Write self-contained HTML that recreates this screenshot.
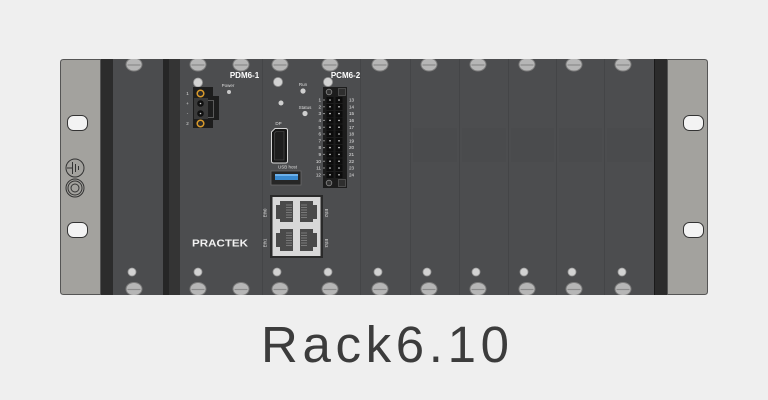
<!DOCTYPE html>
<html><head><meta charset="utf-8"><style>
html,body{margin:0;padding:0;background:#efefef;}
svg{display:block;}
text{font-family:"Liberation Sans",sans-serif;}
</style></head><body>
<svg width="768" height="400" viewBox="0 0 768 400" xmlns="http://www.w3.org/2000/svg">
<rect x="0" y="0" width="768" height="400" fill="#efefef"/>
<!-- main panel -->
<rect x="100" y="59" width="568" height="236" fill="#4c4d4f"/>
<rect x="100" y="59" width="13" height="236" fill="#2c2c2c"/>
<rect x="113" y="59" width="50" height="236" fill="#4b4c4e"/>
<rect x="163" y="59" width="6" height="236" fill="#262626"/>
<rect x="169" y="59" width="11" height="236" fill="#343434"/>
<rect x="654" y="59" width="14" height="236" fill="#2b2b2b"/>
<line x1="654.5" y1="59" x2="654.5" y2="295" stroke="#1a1a1a" stroke-width="1"/>
<!-- slot dividers -->
<g stroke="#444547" stroke-width="1">
<line x1="262.5" y1="59" x2="262.5" y2="295"/>
<line x1="360.5" y1="59" x2="360.5" y2="295"/>
<line x1="410.5" y1="59" x2="410.5" y2="295"/>
<line x1="459.5" y1="59" x2="459.5" y2="295"/>
<line x1="508.5" y1="59" x2="508.5" y2="295"/>
<line x1="556.5" y1="59" x2="556.5" y2="295"/>
<line x1="604.5" y1="59" x2="604.5" y2="295"/>
</g>
<!-- subtle ghost blocks -->
<g fill="#4a4b4d">
<rect x="413" y="128" width="44" height="34"/><rect x="462" y="128" width="44" height="34"/>
<rect x="511" y="128" width="43" height="34"/><rect x="559" y="128" width="43" height="34"/>
<rect x="607" y="128" width="45" height="34"/>
</g>
<!-- screws -->
<defs>
<g id="scr">
<ellipse cx="0" cy="0" rx="8" ry="6.5" fill="#b6b6b6" stroke="#7c7c7c" stroke-width="1"/>
<line x1="-6.5" y1="0.5" x2="6.5" y2="0.5" stroke="#8c8c8c" stroke-width="1.2"/>
</g>
</defs>
<g>
<use href="#scr" x="134" y="64.5"/><use href="#scr" x="198" y="64.5"/><use href="#scr" x="241" y="64.5"/>
<use href="#scr" x="280" y="64.5"/><use href="#scr" x="330" y="64.5"/><use href="#scr" x="380" y="64.5"/>
<use href="#scr" x="429" y="64.5"/><use href="#scr" x="478" y="64.5"/><use href="#scr" x="527" y="64.5"/>
<use href="#scr" x="574" y="64.5"/><use href="#scr" x="623" y="64.5"/>
<use href="#scr" x="134" y="289"/><use href="#scr" x="198" y="289"/><use href="#scr" x="241" y="289"/>
<use href="#scr" x="280" y="289"/><use href="#scr" x="330" y="289"/><use href="#scr" x="380" y="289"/>
<use href="#scr" x="429" y="289"/><use href="#scr" x="478" y="289"/><use href="#scr" x="527" y="289"/>
<use href="#scr" x="574" y="289"/><use href="#scr" x="623" y="289"/>
</g>
<rect x="0" y="0" width="768" height="59" fill="#efefef"/>
<rect x="0" y="295" width="768" height="30" fill="#efefef"/>
<!-- round dots -->
<g fill="#d2d2d2" stroke="#9a9a9a" stroke-width="0.8">
<circle cx="198" cy="82.5" r="4.5"/><circle cx="278" cy="82" r="4.5"/><circle cx="328" cy="82" r="4.5"/>
<circle cx="132" cy="272" r="4"/><circle cx="198" cy="272" r="4"/><circle cx="277" cy="272" r="4"/>
<circle cx="328" cy="272" r="4"/><circle cx="378" cy="272" r="4"/><circle cx="427" cy="272" r="4"/>
<circle cx="476" cy="272" r="4"/><circle cx="524" cy="272" r="4"/><circle cx="572" cy="272" r="4"/>
<circle cx="622" cy="272" r="4"/>
</g>
<!-- ears -->
<path d="M63.5,59.5 H100.5 V294.5 H63.5 Q60.5,294.5 60.5,291.5 V62.5 Q60.5,59.5 63.5,59.5 Z" fill="#a3a29e" stroke="#555" stroke-width="1"/>
<path d="M667.5,59.5 H704.5 Q707.5,59.5 707.5,62.5 V291.5 Q707.5,294.5 704.5,294.5 H667.5 Z" fill="#a3a29e" stroke="#555" stroke-width="1"/>
<g fill="#f3f3f3" stroke="#333" stroke-width="1">
<rect x="67.5" y="115.5" width="20" height="15" rx="6"/>
<rect x="67.5" y="222.5" width="20" height="15" rx="6"/>
<rect x="683.5" y="115.5" width="20" height="15" rx="6"/>
<rect x="683.5" y="222.5" width="20" height="15" rx="6"/>
</g>
<!-- ground symbol -->
<g stroke="#333" stroke-width="1" fill="none">
<circle cx="75" cy="168" r="9"/>
<line x1="67" y1="168" x2="72" y2="168"/>
<line x1="72.5" y1="162" x2="72.5" y2="174"/>
<line x1="75.5" y1="164" x2="75.5" y2="172"/>
<line x1="78.5" y1="166" x2="78.5" y2="170"/>
<circle cx="75" cy="188" r="9"/>
<circle cx="75" cy="188" r="7"/>
<circle cx="75" cy="188" r="4"/>
</g>
<!-- PDM6-1 -->
<text x="244.5" y="78" font-size="8" font-weight="bold" fill="#fff" text-anchor="middle">PDM6-1</text>
<text x="228" y="87" font-size="4.5" fill="#ddd" text-anchor="middle">Power</text>
<circle cx="229" cy="92" r="2" fill="#c8c8c8"/>
<rect x="193" y="87" width="20" height="41" fill="#1d1d1d"/>
<rect x="213" y="96" width="6" height="24" fill="#1d1d1d"/>
<rect x="207.5" y="100.5" width="6" height="17" fill="none" stroke="#5a5a5a" stroke-width="1"/>
<rect x="194" y="98" width="14" height="21" fill="#3a3a3a"/>
<circle cx="200.5" cy="93.5" r="3.3" fill="#2a2a2a" stroke="#d99a2b" stroke-width="1.5"/>
<circle cx="200.5" cy="123.5" r="3.3" fill="#2a2a2a" stroke="#d99a2b" stroke-width="1.5"/>
<circle cx="200.5" cy="103.5" r="3.3" fill="#111"/>
<circle cx="200.5" cy="113.5" r="3.3" fill="#111"/>
<circle cx="200.5" cy="103.5" r="0.8" fill="#ccc"/>
<circle cx="200.5" cy="113.5" r="0.8" fill="#ccc"/>
<g font-size="4.5" fill="#ddd" text-anchor="middle">
<text x="187.5" y="95">1</text><text x="187.5" y="105">+</text><text x="187.5" y="115">-</text><text x="187.5" y="125">2</text>
</g>
<text x="192" y="246.5" font-size="10" font-weight="bold" fill="#f2f2f2" textLength="56" lengthAdjust="spacingAndGlyphs">PRACTEK</text>
<!-- PCM6-2 -->
<text x="345.5" y="78" font-size="8" font-weight="bold" fill="#fff" text-anchor="middle">PCM6-2</text>
<text x="303" y="86" font-size="4.5" fill="#ddd" text-anchor="middle">Run</text>
<circle cx="303" cy="91" r="2.6" fill="#cfcfcf"/>
<circle cx="281" cy="103" r="2.5" fill="#cfcfcf"/>
<text x="305" y="109" font-size="4.5" fill="#ddd" text-anchor="middle">Status</text>
<circle cx="305" cy="113.5" r="2.6" fill="#cfcfcf"/>
<!-- terminal block -->
<rect x="323" y="87" width="24" height="101" fill="#1c1c1c"/>
<circle cx="329" cy="92" r="2.8" fill="#333" stroke="#8a8a8a" stroke-width="0.8"/>
<circle cx="329" cy="183" r="2.8" fill="#333" stroke="#8a8a8a" stroke-width="0.8"/>
<rect x="338.5" y="88.5" width="7" height="7" fill="#2e2e2e" stroke="#555" stroke-width="0.8"/>
<rect x="338.5" y="179.5" width="7" height="7" fill="#2e2e2e" stroke="#555" stroke-width="0.8"/>
<g fill="#0c0c0c">
<rect x="326.5" y="97" width="7" height="6"/><rect x="335.5" y="97" width="7" height="6"/>
<rect x="326.5" y="104" width="7" height="6"/><rect x="335.5" y="104" width="7" height="6"/>
<rect x="326.5" y="111" width="7" height="6"/><rect x="335.5" y="111" width="7" height="6"/>
<rect x="326.5" y="117.5" width="7" height="6"/><rect x="335.5" y="117.5" width="7" height="6"/>
<rect x="326.5" y="124.5" width="7" height="6"/><rect x="335.5" y="124.5" width="7" height="6"/>
<rect x="326.5" y="131" width="7" height="6"/><rect x="335.5" y="131" width="7" height="6"/>
<rect x="326.5" y="138" width="7" height="6"/><rect x="335.5" y="138" width="7" height="6"/>
<rect x="326.5" y="145" width="7" height="6"/><rect x="335.5" y="145" width="7" height="6"/>
<rect x="326.5" y="151.5" width="7" height="6"/><rect x="335.5" y="151.5" width="7" height="6"/>
<rect x="326.5" y="158.5" width="7" height="6"/><rect x="335.5" y="158.5" width="7" height="6"/>
<rect x="326.5" y="165" width="7" height="6"/><rect x="335.5" y="165" width="7" height="6"/>
<rect x="326.5" y="172" width="7" height="6"/><rect x="335.5" y="172" width="7" height="6"/>
</g>
<g fill="#e0e0e0">
<circle cx="330" cy="100" r="0.8"/><circle cx="339" cy="100" r="0.8"/>
<circle cx="330" cy="106.8" r="0.8"/><circle cx="339" cy="106.8" r="0.8"/>
<circle cx="330" cy="113.6" r="0.8"/><circle cx="339" cy="113.6" r="0.8"/>
<circle cx="330" cy="120.4" r="0.8"/><circle cx="339" cy="120.4" r="0.8"/>
<circle cx="330" cy="127.2" r="0.8"/><circle cx="339" cy="127.2" r="0.8"/>
<circle cx="330" cy="134" r="0.8"/><circle cx="339" cy="134" r="0.8"/>
<circle cx="330" cy="140.8" r="0.8"/><circle cx="339" cy="140.8" r="0.8"/>
<circle cx="330" cy="147.6" r="0.8"/><circle cx="339" cy="147.6" r="0.8"/>
<circle cx="330" cy="154.4" r="0.8"/><circle cx="339" cy="154.4" r="0.8"/>
<circle cx="330" cy="161.2" r="0.8"/><circle cx="339" cy="161.2" r="0.8"/>
<circle cx="330" cy="168" r="0.8"/><circle cx="339" cy="168" r="0.8"/>
<circle cx="330" cy="174.8" r="0.8"/><circle cx="339" cy="174.8" r="0.8"/>
<circle cx="324" cy="100" r="0.6"/><circle cx="324" cy="106.8" r="0.6"/><circle cx="324" cy="113.6" r="0.6"/>
<circle cx="324" cy="120.4" r="0.6"/><circle cx="324" cy="127.2" r="0.6"/><circle cx="324" cy="134" r="0.6"/>
<circle cx="324" cy="140.8" r="0.6"/><circle cx="324" cy="147.6" r="0.6"/><circle cx="324" cy="154.4" r="0.6"/>
<circle cx="324" cy="161.2" r="0.6"/><circle cx="324" cy="168" r="0.6"/><circle cx="324" cy="174.8" r="0.6"/>
</g>
<g font-size="4.6" fill="#e6e6e6" text-anchor="end">
<text x="321" y="101.6">1</text><text x="321" y="108.4">2</text><text x="321" y="115.2">3</text>
<text x="321" y="122">4</text><text x="321" y="128.8">5</text><text x="321" y="135.6">6</text>
<text x="321" y="142.4">7</text><text x="321" y="149.2">8</text><text x="321" y="156">9</text>
<text x="321" y="162.8">10</text><text x="321" y="169.6">11</text><text x="321" y="176.4">12</text>
</g>
<g font-size="4.6" fill="#e6e6e6">
<text x="349" y="101.6">13</text><text x="349" y="108.4">14</text><text x="349" y="115.2">15</text>
<text x="349" y="122">16</text><text x="349" y="128.8">17</text><text x="349" y="135.6">18</text>
<text x="349" y="142.4">19</text><text x="349" y="149.2">20</text><text x="349" y="156">21</text>
<text x="349" y="162.8">22</text><text x="349" y="169.6">23</text><text x="349" y="176.4">24</text>
</g>
<!-- DP -->
<text x="278.5" y="125" font-size="4.5" fill="#ddd" text-anchor="middle">DP</text>
<path d="M275,128.5 H285.5 Q287.5,128.5 287.5,130.5 V161 Q287.5,163 285.5,163 H273.5 Q271.5,163 271.5,161 V132 Z" fill="#151515" stroke="#d6d6d6" stroke-width="1"/>
<path d="M276,131.5 H284 V160 H274.5 V133 Z" fill="#1e1e1e" stroke="#555" stroke-width="0.6"/>
<!-- USB -->
<text x="287.5" y="168.5" font-size="4.5" fill="#ddd" text-anchor="middle">USB host</text>
<rect x="271" y="171" width="30" height="14" fill="#262626" stroke="#6a6a6a" stroke-width="0.8"/>
<rect x="275" y="174" width="23" height="6" fill="#3a8ad0"/>
<rect x="275" y="174" width="23" height="2" fill="#6cb0ea"/>
<!-- Ethernet -->
<rect x="270" y="195" width="53" height="63" fill="#2a2a2a"/>
<rect x="272.5" y="197" width="48" height="59" fill="#d8d8d8"/>
<g fill="#4a4a4a">
<path d="M276,205 H280 V201 H293 V222 H280 V219 H276 Z"/>
<path d="M317,205 H313 V201 H300 V222 H313 V219 H317 Z"/>
<path d="M276,233 H280 V229 H293 V251 H280 V247 H276 Z"/>
<path d="M317,233 H313 V229 H300 V251 H313 V247 H317 Z"/>
</g>
<g stroke="#9a9a9a" stroke-width="0.6">
<line x1="286" y1="205" x2="292" y2="205"/><line x1="286" y1="207.5" x2="292" y2="207.5"/><line x1="286" y1="210" x2="292" y2="210"/><line x1="286" y1="212.5" x2="292" y2="212.5"/><line x1="286" y1="215" x2="292" y2="215"/><line x1="286" y1="217.5" x2="292" y2="217.5"/>
<line x1="301" y1="205" x2="307" y2="205"/><line x1="301" y1="207.5" x2="307" y2="207.5"/><line x1="301" y1="210" x2="307" y2="210"/><line x1="301" y1="212.5" x2="307" y2="212.5"/><line x1="301" y1="215" x2="307" y2="215"/><line x1="301" y1="217.5" x2="307" y2="217.5"/>
<line x1="286" y1="233" x2="292" y2="233"/><line x1="286" y1="235.5" x2="292" y2="235.5"/><line x1="286" y1="238" x2="292" y2="238"/><line x1="286" y1="240.5" x2="292" y2="240.5"/><line x1="286" y1="243" x2="292" y2="243"/><line x1="286" y1="245.5" x2="292" y2="245.5"/>
<line x1="301" y1="233" x2="307" y2="233"/><line x1="301" y1="235.5" x2="307" y2="235.5"/><line x1="301" y1="238" x2="307" y2="238"/><line x1="301" y1="240.5" x2="307" y2="240.5"/><line x1="301" y1="243" x2="307" y2="243"/><line x1="301" y1="245.5" x2="307" y2="245.5"/>
</g>
<g font-size="4.3" fill="#ddd" text-anchor="middle">
<text transform="translate(266.5,213) rotate(-90)">Eth0</text>
<text transform="translate(266.5,243) rotate(-90)">Eth1</text>
<text transform="translate(325,213) rotate(90)">Eth2</text>
<text transform="translate(325,243) rotate(90)">Eth3</text>
</g>
<!-- title -->
<text x="261" y="362" font-size="51" fill="#3c3c3c" textLength="248" lengthAdjust="spacing">Rack6.10</text>
</svg>
</body></html>
